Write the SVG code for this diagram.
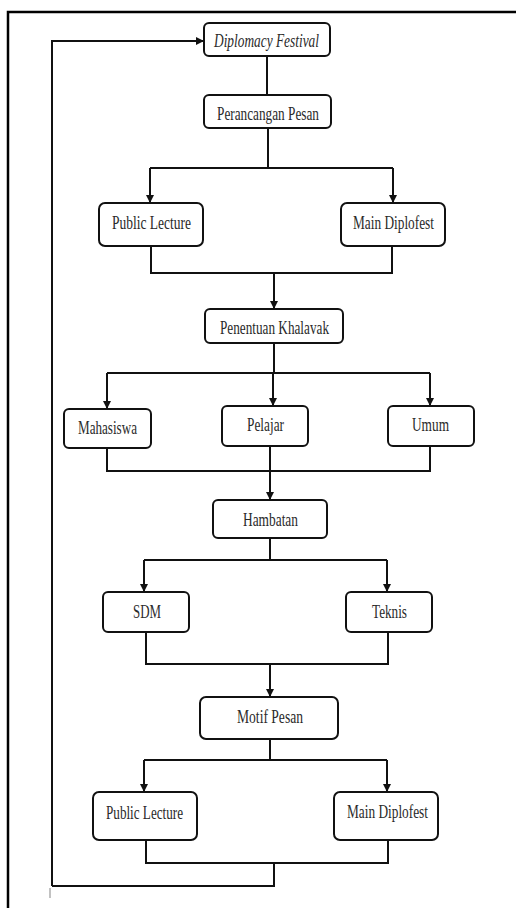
<svg xmlns="http://www.w3.org/2000/svg" width="516" height="908" viewBox="0 0 516 908">
<style>
.box{fill:#fff;stroke:#111;stroke-width:2}
.lbl{font-family:'Liberation Serif','DejaVu Serif',serif;font-size:19px;fill:#2a2a2a}
.con{fill:none;stroke:#111;stroke-width:2}
.frame{fill:none;stroke:#000;stroke-width:2.5}
</style>
<defs>
<marker id="ah" markerUnits="userSpaceOnUse" markerWidth="9" markerHeight="9" refX="8" refY="4" orient="auto">
<path d="M0,0 L8,4 L0,8 z" fill="#111"/>
</marker>
</defs>
<rect width="516" height="908" fill="#fff"/>
<path class="frame" d="M8,908 V12 H516"/>
<g id="connectors">
<path class="con" d="M267,56 V95"/>
<path class="con" d="M268,128 V168 M150,168 H393"/>
<path class="con" marker-end="url(#ah)" d="M150,168 V203"/>
<path class="con" marker-end="url(#ah)" d="M393,168 V203"/>
<path class="con" d="M151,246 V273 H392 V246"/>
<path class="con" marker-end="url(#ah)" d="M274,273 V309"/>
<path class="con" d="M274,343 V373 M107,373 H430"/>
<path class="con" marker-end="url(#ah)" d="M107,373 V409"/>
<path class="con" marker-end="url(#ah)" d="M273,373 V406"/>
<path class="con" marker-end="url(#ah)" d="M430,373 V406"/>
<path class="con" d="M107,448 V471 H430 V446"/>
<path class="con" marker-end="url(#ah)" d="M270,446 V500"/>
<path class="con" d="M270,538 V560 M144,560 H387"/>
<path class="con" marker-end="url(#ah)" d="M144,560 V592"/>
<path class="con" marker-end="url(#ah)" d="M387,560 V592"/>
<path class="con" d="M146,632 V664 H388 V632"/>
<path class="con" marker-end="url(#ah)" d="M270,664 V697"/>
<path class="con" d="M270,739 V760 M144,760 H387"/>
<path class="con" marker-end="url(#ah)" d="M144,760 V792"/>
<path class="con" marker-end="url(#ah)" d="M387,760 V792"/>
<path class="con" d="M146,840 V863 H388 V840 M274,863 V886 H52"/>
<path class="con" marker-end="url(#ah)" d="M52,886 V41 H204"/>
</g>
<g id="n-diplomacy"><rect class="box" x="204" y="23" width="126" height="33" rx="5"/><text class="lbl" x="214" y="47" font-style="italic" textLength="105" lengthAdjust="spacingAndGlyphs">Diplomacy Festival</text></g>
<g id="n-perancangan"><rect class="box" x="204" y="95" width="127" height="33" rx="5"/><text class="lbl" x="217" y="120" textLength="102" lengthAdjust="spacingAndGlyphs">Perancangan Pesan</text></g>
<g id="n-public1"><rect class="box" x="99" y="203" width="104" height="43" rx="6"/><text class="lbl" x="112" y="229" textLength="79" lengthAdjust="spacingAndGlyphs">Public Lecture</text></g>
<g id="n-main1"><rect class="box" x="341" y="203" width="104" height="43" rx="6"/><text class="lbl" x="353" y="229" textLength="81" lengthAdjust="spacingAndGlyphs">Main Diplofest</text></g>
<g id="n-penentuan"><rect class="box" x="205" y="309" width="138" height="34" rx="5"/><text class="lbl" x="220" y="334" textLength="109" lengthAdjust="spacingAndGlyphs">Penentuan Khalavak</text></g>
<g id="n-mahasiswa"><rect class="box" x="64" y="409" width="87" height="39" rx="5"/><text class="lbl" x="78" y="434" textLength="59" lengthAdjust="spacingAndGlyphs">Mahasiswa</text></g>
<g id="n-pelajar"><rect class="box" x="222" y="406" width="86" height="40" rx="5"/><text class="lbl" x="247" y="431" textLength="37" lengthAdjust="spacingAndGlyphs">Pelajar</text></g>
<g id="n-umum"><rect class="box" x="388" y="406" width="86" height="40" rx="5"/><text class="lbl" x="412" y="431" textLength="37" lengthAdjust="spacingAndGlyphs">Umum</text></g>
<g id="n-hambatan"><rect class="box" x="213" y="500" width="114" height="38" rx="5"/><text class="lbl" x="243" y="526" textLength="55" lengthAdjust="spacingAndGlyphs">Hambatan</text></g>
<g id="n-sdm"><rect class="box" x="103" y="592" width="86" height="40" rx="5"/><text class="lbl" x="133" y="618" textLength="28" lengthAdjust="spacingAndGlyphs">SDM</text></g>
<g id="n-teknis"><rect class="box" x="346" y="592" width="86" height="40" rx="5"/><text class="lbl" x="372" y="618" textLength="35" lengthAdjust="spacingAndGlyphs">Teknis</text></g>
<g id="n-motif"><rect class="box" x="200" y="697" width="138" height="42" rx="6"/><text class="lbl" x="237" y="723" textLength="66" lengthAdjust="spacingAndGlyphs">Motif Pesan</text></g>
<g id="n-public2"><rect class="box" x="93" y="792" width="104" height="48" rx="6"/><text class="lbl" x="106" y="819" textLength="77" lengthAdjust="spacingAndGlyphs">Public Lecture</text></g>
<g id="n-main2"><rect class="box" x="334" y="792" width="104" height="48" rx="6"/><text class="lbl" x="347" y="818" textLength="81" lengthAdjust="spacingAndGlyphs">Main Diplofest</text></g>
<line x1="50" y1="888" x2="50" y2="898" stroke="#999" stroke-width="1.2"/>
</svg>
